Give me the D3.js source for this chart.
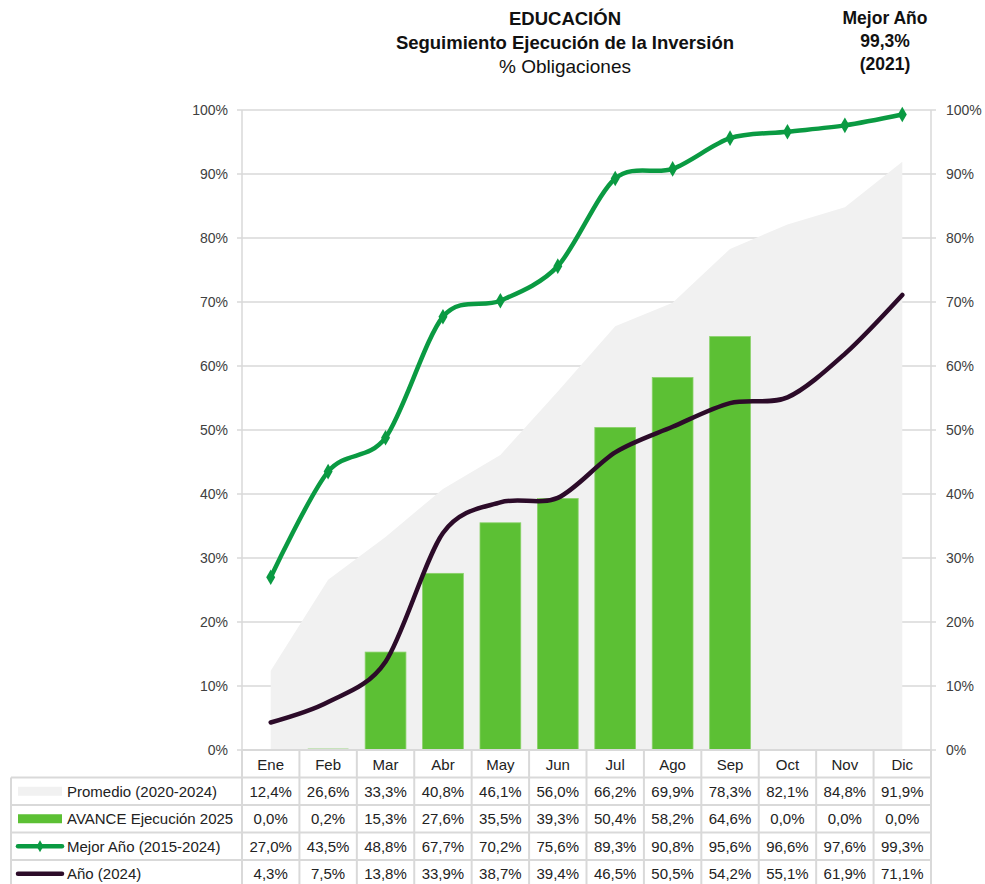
<!DOCTYPE html>
<html><head><meta charset="utf-8">
<script src="https://cdn.jsdelivr.net/npm/d3@7"></script>
<style>
body{margin:0;background:#fff;}
svg{display:block;font-family:"Liberation Sans",Arial,sans-serif;}
</style></head>
<body>
<svg id="c" width="985" height="884"></svg>
<script>
const months = ["Ene","Feb","Mar","Abr","May","Jun","Jul","Ago","Sep","Oct","Nov","Dic"];
const promedio = [12.4,26.6,33.3,40.8,46.1,56.0,66.2,69.9,78.3,82.1,84.8,91.9];
const avance2025 = [0.0,0.2,15.3,27.6,35.5,39.3,50.4,58.2,64.6,0.0,0.0,0.0];
const mejorAnio = [27.0,43.5,48.8,67.7,70.2,75.6,89.3,90.8,95.6,96.6,97.6,99.3];
const anio2024 = [4.3,7.5,13.8,33.9,38.7,39.4,46.5,50.5,54.2,55.1,61.9,71.1];
const yTicks = [0,10,20,30,40,50,60,70,80,90,100];
const seriesNames = ["Promedio (2020-2024)","AVANCE Ejecución 2025","Mejor Año (2015-2024)","Año (2024)"];
const titleLines = ["EDUCACIÓN","Seguimiento Ejecución de la Inversión","% Obligaciones"];
const bestLines = ["Mejor Año","99,3%","(2021)"];

const C = {area:"#f1f1f1", bar:"#5cc034", best:"#0a9a42", year:"#2c0b29", grid:"#d9d9d9", text:"#404040"};
const svg = d3.select("#c");
const L = 242, R = 931, T = 110, B = 750;
const x = d3.scaleBand().domain(months).range([L,R]).padding(0);
const y = d3.scaleLinear().domain([0,100]).range([B,T]);
const cx = m => x(m) + x.bandwidth()/2;
const fmt = v => v.toFixed(1).replace(".",",") + "%";

// gridlines
svg.append("g").selectAll("line").data(yTicks).join("line")
  .attr("x1",L-5).attr("x2",R+5).attr("y1",d=>y(d)).attr("y2",d=>y(d))
  .attr("stroke",C.grid).attr("stroke-width",1.5);
[L,R].forEach(px=>svg.append("line").attr("x1",px).attr("x2",px).attr("y1",T).attr("y2",B)
  .attr("stroke",C.grid).attr("stroke-width",1.5));

// area
svg.append("path").datum(months.map((m,i)=>[m,promedio[i]]))
  .attr("fill",C.area)
  .attr("d",d3.area().x(d=>cx(d[0])).y0(y(0)).y1(d=>y(d[1])));

// bars
const bw = x.bandwidth()*0.71;
svg.append("g").selectAll("rect").data(months.map((m,i)=>[m,avance2025[i]])).join("rect")
  .attr("x",d=>cx(d[0])-bw/2).attr("width",bw)
  .attr("y",d=>y(d[1])).attr("height",d=>y(0)-y(d[1]))
  .attr("fill",C.bar).attr("stroke",d=>d[1]>1?"#8ad26a":"none").attr("stroke-width",0.8);

// lines
const line = d3.line().x(d=>cx(d[0])).y(d=>y(d[1])).curve(d3.curveCardinal.tension(0.1));
svg.append("path").datum(months.map((m,i)=>[m,anio2024[i]]))
  .attr("fill","none").attr("stroke",C.year).attr("stroke-width",4.5).attr("stroke-linecap","round")
  .attr("d",line);
svg.append("path").datum(months.map((m,i)=>[m,mejorAnio[i]]))
  .attr("fill","none").attr("stroke",C.best).attr("stroke-width",4.5).attr("stroke-linecap","round")
  .attr("d",line);
const diamond = d3.symbol().type(d3.symbolDiamond).size(70);
svg.append("g").selectAll("path").data(months.map((m,i)=>[m,mejorAnio[i]])).join("path")
  .attr("transform",d=>`translate(${cx(d[0])},${y(d[1])})`)
  .attr("d",diamond).attr("fill",C.best);

// axis labels
svg.append("g").selectAll("text").data(yTicks).join("text")
  .attr("x",L-14).attr("y",d=>y(d)).attr("dy","0.35em").attr("text-anchor","end")
  .attr("font-size",14).attr("fill",C.text).text(d=>d+"%");
svg.append("g").selectAll("text").data(yTicks).join("text")
  .attr("x",R+15).attr("y",d=>y(d)).attr("dy","0.35em").attr("text-anchor","start")
  .attr("font-size",14).attr("fill",C.text).text(d=>d+"%");

// baseline
svg.append("line").attr("x1",L).attr("x2",R).attr("y1",B).attr("y2",B).attr("stroke",C.grid).attr("stroke-width",2);

// table
const rowH = 27.5;
const TL = 11;
const tg = svg.append("g");
tg.selectAll("line.h").data([777.5,805,832.5,860]).join("line")
  .attr("x1",TL).attr("x2",R).attr("y1",d=>d).attr("y2",d=>d)
  .attr("stroke",C.grid).attr("stroke-width",2);
const vx = months.map(m=>x(m)).concat([R]);
tg.selectAll("line.v").data(vx).join("line")
  .attr("x1",d=>d).attr("x2",d=>d).attr("y1",B).attr("y2",884)
  .attr("stroke",C.grid).attr("stroke-width",2);
tg.append("line").attr("x1",TL).attr("x2",TL).attr("y1",777.5).attr("y2",884)
  .attr("stroke",C.grid).attr("stroke-width",2);
tg.selectAll("text.m").data(months).join("text")
  .attr("x",d=>cx(d)).attr("y",764.5).attr("dy","0.35em").attr("text-anchor","middle")
  .attr("font-size",15).attr("fill","#222").text(d=>d);
const rows = [promedio, avance2025, mejorAnio, anio2024];
rows.forEach((vals,ri)=>{
  const yc = 777.5 + rowH*ri + rowH/2;
  tg.append("g").selectAll("text").data(months.map((m,i)=>[m,vals[i]])).join("text")
    .attr("x",d=>cx(d[0])).attr("y",yc).attr("dy","0.35em").attr("text-anchor","middle")
    .attr("font-size",15).attr("fill","#222").text(d=>fmt(d[1]));
  tg.append("text").attr("x",67).attr("y",yc).attr("dy","0.35em")
    .attr("font-size",15).attr("fill","#222").text(seriesNames[ri]);
});
const k0 = 777.5 + rowH/2, k1 = k0+rowH, k2 = k1+rowH, k3 = k2+rowH;
tg.append("rect").attr("x",18).attr("y",k0-4.5).attr("width",44).attr("height",9).attr("fill",C.area);
tg.append("rect").attr("x",18).attr("y",k1-4.5).attr("width",44).attr("height",9).attr("fill",C.bar);
tg.append("line").attr("x1",18).attr("x2",62).attr("y1",k2).attr("y2",k2).attr("stroke",C.best).attr("stroke-width",4.5).attr("stroke-linecap","round");
tg.append("path").attr("transform",`translate(40,${k2})`).attr("d",d3.symbol().type(d3.symbolDiamond).size(40)).attr("fill",C.best);
tg.append("line").attr("x1",18).attr("x2",62).attr("y1",k3).attr("y2",k3).attr("stroke",C.year).attr("stroke-width",4.5).attr("stroke-linecap","round");

// titles
const tSizes = [18.5,18.5,19];
svg.append("g").selectAll("text").data(titleLines).join("text")
  .attr("x",565).attr("y",(d,i)=>25+i*24).attr("text-anchor","middle")
  .attr("font-size",(d,i)=>tSizes[i]).attr("font-weight",(d,i)=>i<2?"bold":"normal").attr("fill","#111")
  .text(d=>d);
svg.append("g").selectAll("text").data(bestLines).join("text")
  .attr("x",885).attr("y",(d,i)=>24+i*23).attr("text-anchor","middle")
  .attr("font-size",17.5).attr("font-weight","bold").attr("fill","#111")
  .text(d=>d);
</script>
</body></html>
